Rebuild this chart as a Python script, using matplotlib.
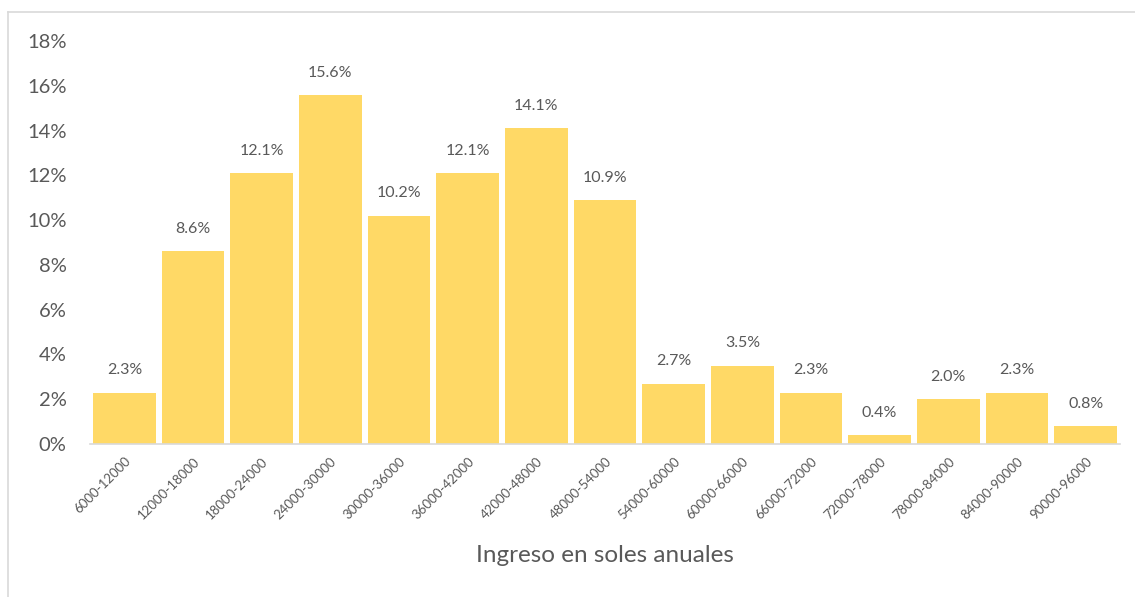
import matplotlib
matplotlib.use("Agg")
import matplotlib.pyplot as plt
from matplotlib.lines import Line2D

categories = ["6000-12000", "12000-18000", "18000-24000", "24000-30000", "30000-36000",
              "36000-42000", "42000-48000", "48000-54000", "54000-60000", "60000-66000",
              "66000-72000", "72000-78000", "78000-84000", "84000-90000", "90000-96000"]
values = [2.3, 8.6, 12.1, 15.6, 10.2, 12.1, 14.1, 10.9, 2.7, 3.5, 2.3, 0.4, 2.0, 2.3, 0.8]
yticks = [0, 2, 4, 6, 8, 10, 12, 14, 16, 18]

W, H = 1135, 597
fig = plt.figure(figsize=(W / 100, H / 100), dpi=100)
plt.rcParams['font.family'] = ['Lato', 'DejaVu Sans']
txt = '#595959'

ax = fig.add_axes([90 / W, 1 - 444 / H, (1120 - 90) / W, (444 - 41) / H])
x = range(len(categories))
ax.bar(x, values, width=0.91, color='#FFD966', edgecolor='none')
for xi, v in zip(x, values):
    ax.annotate(f"{v:.1f}%", (xi, v), xytext=(0, 16), textcoords='offset points',
                ha='center', va='center', fontsize=11.5, color=txt)

ax.set_xlim(-0.5, len(categories) - 0.5)
ax.set_ylim(0, 18)
ax.set_yticks(yticks)
ax.set_yticklabels([f"{t}%" for t in yticks], fontsize=14.5, color=txt)
ax.set_xticks(list(x))
ax.set_xticklabels(categories, rotation=45, ha='right', rotation_mode='anchor',
                   fontsize=9.5, color=txt)
ax.tick_params(axis='both', length=0)
ax.tick_params(axis='y', pad=17)
ax.tick_params(axis='x', pad=8)
for s in ['top', 'right', 'left']:
    ax.spines[s].set_visible(False)
ax.spines['bottom'].set_color('#D9D9D9')
ax.spines['bottom'].set_linewidth(1.2)

fig.text(605 / W, 1 - 555 / H, "Ingreso en soles anuales", ha='center', va='center',
         fontsize=17.5, color=txt)

fig.add_artist(Line2D([8 / W, 1.0], [1 - 12 / H, 1 - 12 / H], transform=fig.transFigure,
                      color='#D9D9D9', lw=1.2))
fig.add_artist(Line2D([8 / W, 8 / W], [0, 1 - 12 / H], transform=fig.transFigure,
                      color='#D9D9D9', lw=1.2))

fig.savefig("out.png", dpi=100)
